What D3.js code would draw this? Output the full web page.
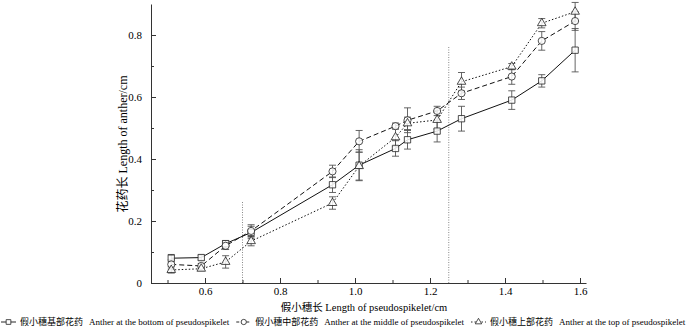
<!DOCTYPE html>
<html>
<head>
<meta charset="utf-8">
<script src="https://cdn.jsdelivr.net/npm/d3@7"></script>
<style>
  body { margin: 0; background: #fff; }
  svg text { font-family: "Liberation Serif", "Noto Sans CJK SC", serif; fill: #000; }
</style>
</head>
<body>
<script>
// pseudospikelet length (x) and anther length per position (y), with error bars
var spikelet = [0.51, 0.59, 0.655, 0.723, 0.94, 1.011, 1.108, 1.14, 1.219, 1.284, 1.418, 1.498, 1.587];

var bottomVals = [0.080, 0.082, 0.127, 0.163, 0.317, 0.380, 0.434, 0.462, 0.490, 0.530, 0.590, 0.652, 0.751];
var bottomErr  = [0.012, 0.008, 0.010, 0.020, 0.025, 0.050, 0.025, 0.030, 0.035, 0.040, 0.030, 0.020, 0.070];

var middleVals = [0.060, 0.055, 0.120, 0.168, 0.360, 0.457, 0.506, 0.525, 0.555, 0.612, 0.666, 0.781, 0.845];
var middleErr  = [0.015, 0.008, 0.012, 0.020, 0.020, 0.035, 0.010, 0.040, 0.015, 0.020, 0.025, 0.030, 0.030];

var topVals    = [0.042, 0.046, 0.068, 0.135, 0.258, 0.377, 0.470, 0.515, 0.526, 0.649, 0.698, 0.838, 0.875];
var topErr     = [0.010, 0.006, 0.020, 0.015, 0.020, 0.045, 0.030, 0.020, 0.030, 0.030, 0.010, 0.015, 0.030];

var xTicks = [0.6, 0.8, 1.0, 1.2, 1.4, 1.6];
var xMinor = [0.5, 0.7, 0.9, 1.1, 1.3, 1.5];
var yTicks = [0, 0.2, 0.4, 0.6, 0.8];
var yMinor = [0.1, 0.3, 0.5, 0.7];
var markLines = [{x: 0.7, top: 0.262}, {x: 1.25, top: 0.762}];

var legendCn = ["假小穗基部花药", "假小穗中部花药", "假小穗上部花药"];
var legendEn = ["Anther at the bottom of pseudospikelet",
                "Anther at the middle of pseudospikelet",
                "Anther at the top of pseudospikelet"];

var W = 700, H = 331;
var svg = d3.select("body").append("svg").attr("width", W).attr("height", H);

var x = d3.scaleLinear().domain([0.456, 1.616]).range([151, 586]);
var y = d3.scaleLinear().domain([0, 0.9]).range([283, 4]);

// dotted reference lines
svg.selectAll("line.ref").data(markLines).enter().append("line")
  .attr("x1", d => x(d.x)).attr("x2", d => x(d.x))
  .attr("y1", y(0)).attr("y2", d => y(d.top))
  .attr("stroke", "#888").attr("stroke-width", 1).attr("stroke-dasharray", "1,1.5");

// axes
svg.append("g").attr("transform", "translate(0," + y(0) + ")")
  .call(d3.axisBottom(x).tickValues(xTicks).tickSizeInner(-5).tickSizeOuter(0).tickPadding(4)
        .tickFormat(d3.format(".1f")));
var xMin = svg.append("g").attr("transform", "translate(0," + y(0) + ")")
  .call(d3.axisBottom(x).tickValues(xMinor).tickSize(-3).tickFormat(""));
xMin.select(".domain").remove();

svg.append("g").attr("transform", "translate(" + x(0.456) + ",0)")
  .call(d3.axisLeft(y).tickValues(yTicks).tickSizeInner(-5).tickSizeOuter(0).tickPadding(9)
        .tickFormat(d => d === 0 ? "0" : d3.format(".1f")(d)));
var yMin = svg.append("g").attr("transform", "translate(" + x(0.456) + ",0)")
  .call(d3.axisLeft(y).tickValues(yMinor).tickSize(-3).tickFormat(""));
yMin.select(".domain").remove();

svg.selectAll(".tick text").style("font-size", "11px").style("font-family", "Liberation Serif");
svg.selectAll(".domain, .tick line").attr("stroke", "#333");

// titles
svg.append("text").attr("x", 364).attr("y", 311).attr("text-anchor", "middle")
  .style("font-size", "10.5px").text("假小穗长 Length of pseudospikelet/cm");
svg.append("text").attr("transform", "translate(127,144) rotate(-90)").attr("text-anchor", "middle")
  .style("font-size", "12px").text("花药长 Length of anther/cm");

var series = [
  {vals: bottomVals, err: bottomErr, dash: null, legDash: null, shape: d3.symbolSquare, size: 40},
  {vals: middleVals, err: middleErr, dash: "5,3", legDash: "3,2", shape: d3.symbolCircle, size: 40},
  {vals: topVals, err: topErr, dash: "1.5,2", legDash: "1.5,2", shape: d3.symbolTriangle, size: 32}
];

var line = d3.line().x(d => x(d[0])).y(d => y(d[1]));

series.forEach(function(s) {
  var pts = spikelet.map((v, i) => [v, s.vals[i], s.err[i]]);
  svg.append("path").datum(pts).attr("d", line)
    .attr("fill", "none").attr("stroke", "#111").attr("stroke-width", 1)
    .attr("stroke-dasharray", s.dash);

  var eb = svg.append("g").attr("stroke", "#555").attr("stroke-width", 0.9);
  pts.forEach(function(p) {
    eb.append("line").attr("x1", x(p[0])).attr("x2", x(p[0]))
      .attr("y1", y(p[1] - p[2])).attr("y2", y(p[1] + p[2]));
    [p[1] - p[2], p[1] + p[2]].forEach(function(v) {
      eb.append("line").attr("x1", x(p[0]) - 3.5).attr("x2", x(p[0]) + 3.5)
        .attr("y1", y(v)).attr("y2", y(v));
    });
  });
});

series.forEach(function(s) {
  svg.append("g").selectAll("path").data(spikelet).enter().append("path")
    .attr("d", d3.symbol().type(s.shape).size(s.size))
    .attr("transform", (d, i) => "translate(" + x(d) + "," + y(s.vals[i]) + ")")
    .attr("fill", "#fff").attr("fill-opacity", 0.85).attr("stroke", "#222").attr("stroke-width", 0.8);
});

// legend, laid out left to right, shrunk until it fits the width
var legend = svg.append("g");
function drawLegend(fs) {
  legend.selectAll("*").remove();
  var cx = 1, ly = 325;
  series.forEach(function(s, i) {
    var g = legend.append("g").attr("transform", "translate(" + cx + "," + ly + ")");
    g.append("line").attr("x1", 0).attr("x2", 15).attr("y1", -3).attr("y2", -3)
      .attr("stroke", "#111").attr("stroke-width", 0.9).attr("stroke-dasharray", s.legDash);
    g.append("path").attr("d", d3.symbol().type(s.shape).size(s.size * 0.55))
      .attr("transform", "translate(7.5,-3)").attr("fill", "#fff").attr("stroke", "#222").attr("stroke-width", 0.8);
    var cn = g.append("text").attr("x", 19).attr("y", 0).style("font-size", fs + "px").text(legendCn[i]);
    var cw = cn.node().getComputedTextLength();
    var en = g.append("text").attr("x", 19 + cw + 6).attr("y", 0).style("font-size", fs + "px").text(legendEn[i]);
    cx += 19 + cw + 6 + en.node().getComputedTextLength() + 7;
  });
  return cx;
}
var fs = 9.5;
while (drawLegend(fs) > W && fs > 6) fs -= 0.25;
</script>
</body>
</html>
